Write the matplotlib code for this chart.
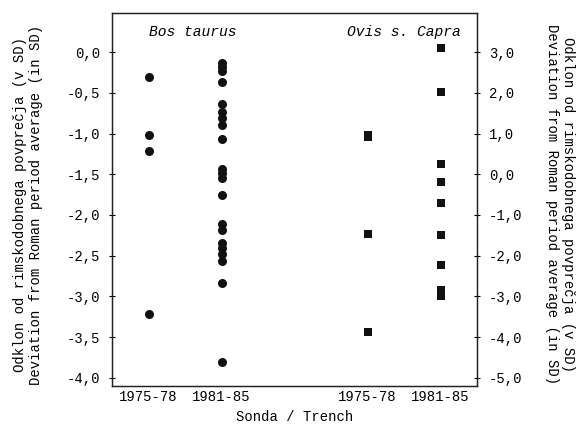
import matplotlib
matplotlib.use('Agg')
import matplotlib.pyplot as plt
from matplotlib.ticker import FuncFormatter

# Bos taurus, deviation (left axis)
bos_7578 = [-0.30, -1.02, -1.21, -3.21]
bos_8185 = [-0.135, -0.185, -0.235, -0.37, -0.64, -0.73, -0.81, -0.90, -1.07,
            -1.43, -1.48, -1.54, -1.75, -2.11, -2.19, -2.35, -2.41, -2.48,
            -2.56, -2.83, -3.81]

# Ovis s. Capra, deviation (right axis)
ovis_7578 = [0.97, 0.91, -1.46, -3.88]
ovis_8185 = [3.09, 2.02, 0.25, -0.18, -0.71, -1.50, -2.22, -2.85, -2.99]

xpos = [1, 2, 4, 5]
xlabels = ['1975-78', '1981-85', '1975-78', '1981-85']
left_ticks = [0.0, -0.5, -1.0, -1.5, -2.0, -2.5, -3.0, -3.5, -4.0]
right_ticks = [3.0, 2.0, 1.0, 0.0, -1.0, -2.0, -3.0, -4.0, -5.0]

plt.rcParams['font.family'] = ['Liberation Mono', 'DejaVu Sans Mono']
plt.rcParams['font.size'] = 10


def comma(v, pos):
    return '{:.1f}'.format(v).replace('.', ',')


fig = plt.figure(figsize=(5.78, 4.26), dpi=100)
ax = fig.add_axes([0.1938, 0.0939, 0.6315, 0.8756])
ax2 = ax.twinx()

ax.plot([xpos[0]] * len(bos_7578), bos_7578, 'o', color='#111111', ms=6.5, mew=0)
ax.plot([xpos[1]] * len(bos_8185), bos_8185, 'o', color='#111111', ms=6.5, mew=0)
ax2.plot([xpos[2]] * len(ovis_7578), ovis_7578, 's', color='#111111', ms=6, mew=0)
ax2.plot([xpos[3]] * len(ovis_8185), ovis_8185, 's', color='#111111', ms=6, mew=0)

ax.set_xlim(0.5, 5.5)
ax.set_ylim(-4.1, 0.48)
ax2.set_ylim(-5.2, 3.96)

ax.set_xticks(xpos)
ax.set_xticklabels(xlabels)
ax.tick_params(axis='x', length=0, pad=3)
ax.set_yticks(left_ticks)
ax.yaxis.set_major_formatter(FuncFormatter(comma))
ax.tick_params(axis='y', direction='inout', length=5, width=0.8, pad=6)
ax2.set_yticks(right_ticks)
ax2.yaxis.set_major_formatter(FuncFormatter(comma))
ax2.tick_params(axis='y', direction='inout', length=5, width=0.8, pad=6)

for a in (ax, ax2):
    for s in a.spines.values():
        s.set_linewidth(0.9)
        s.set_color('#222222')

ax.text(0.222, 0.949, 'Bos taurus', transform=ax.transAxes, style='italic',
        ha='center', va='center', fontsize=10.5)
ax.text(0.80, 0.949, 'Ovis s. Capra', transform=ax.transAxes, style='italic',
        ha='center', va='center', fontsize=10.5)

ax.set_xlabel('Sonda / Trench', labelpad=4)

fig.text(0.049, 0.52,
         'Odklon od rimskodobnega povprečja (v SD)\nDeviation from Roman period average (in SD)',
         rotation=90, ha='center', va='center', multialignment='center')
fig.text(0.969, 0.52,
         'Odklon od rimskodobnega povprečja (v SD)\nDeviation from Roman period average (in SD)',
         rotation=-90, ha='center', va='center', multialignment='center')

fig.savefig('out.png', dpi=100)
